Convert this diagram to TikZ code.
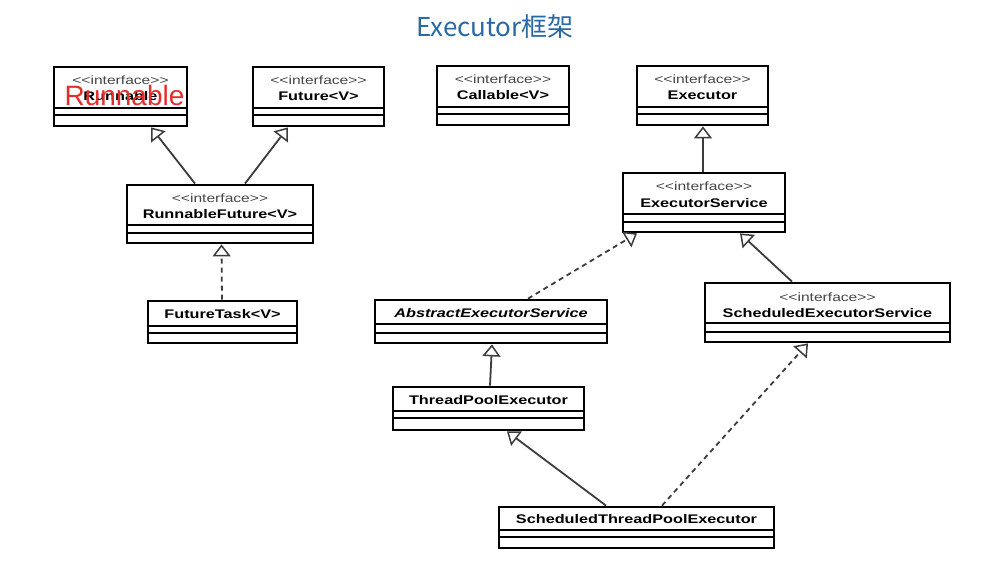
\documentclass[tikz,border=0pt]{standalone}
\usepackage{fontspec}
\setmainfont{Liberation Sans}
\newfontfamily\umlfont[FakeStretch=1.3]{Liberation Sans}
\newfontfamily\cjkfont{Noto Sans CJK SC}
\usetikzlibrary{arrows.meta}
\definecolor{titleblue}{RGB}{41,105,165}
\definecolor{linegray}{RGB}{60,60,60}
\definecolor{stereogray}{RGB}{70,70,70}
\definecolor{overred}{RGB}{230,45,45}
\begin{document}
\begin{tikzpicture}[x=1pt,y=-1pt,
  umlbox/.style={draw=black, line width=2.8pt, inner sep=0pt, fill=white},
  divline/.style={draw=black, line width=1.4pt},
  stereo/.style={inner sep=0pt, text=stereogray, font=\umlfont\fontsize{12}{14}\selectfont},
  nm/.style={inner sep=0pt, text=black, font=\umlfont\bfseries\fontsize{12.5}{14}\selectfont},
  gen/.style={draw=linegray, line width=1.8pt, -{Triangle[open, length=12pt, width=18pt, line width=1.5pt]}},
  real/.style={gen, dash pattern=on 5pt off 4pt}
]
\fill[white] (0,0) rectangle (996,562);
\useasboundingbox (0,0) rectangle (996,562);

% title
\node[inner sep=0pt, text=titleblue, font=\cjkfont\fontsize{26}{30}\selectfont] (title) at (495,27) {Executor框架};

% boxes
\node[umlbox, minimum width=133pt, minimum height=59pt] (run) at (120.5,96.5) {};
\node[umlbox, minimum width=131pt, minimum height=59pt] (fut) at (318.5,96.5) {};
\node[umlbox, minimum width=132pt, minimum height=59pt] (call) at (503,95.5) {};
\node[umlbox, minimum width=131pt, minimum height=59pt] (exe) at (702.5,95.5) {};
\node[umlbox, minimum width=186pt, minimum height=58pt] (rf) at (220,214) {};
\node[umlbox, minimum width=162pt, minimum height=59pt] (es) at (704,202.5) {};
\node[umlbox, minimum width=149pt, minimum height=42pt] (ft) at (222.5,322) {};
\node[umlbox, minimum width=232pt, minimum height=43pt] (aes) at (491,321.5) {};
\node[umlbox, minimum width=245pt, minimum height=59pt] (ses) at (827.5,312.5) {};
\node[umlbox, minimum width=191pt, minimum height=43pt] (tpe) at (488.5,408.5) {};
\node[umlbox, minimum width=275pt, minimum height=41pt] (stpe) at (636.5,527.5) {};

% compartment lines
\draw[divline] (54,108) -- (187,108) (54,115) -- (187,115);
\draw[divline] (253,108) -- (384,108) (253,115) -- (384,115);
\draw[divline] (437,107) -- (569,107) (437,114) -- (569,114);
\draw[divline] (637,107) -- (768,107) (637,114) -- (768,114);
\draw[divline] (127,225) -- (313,225) (127,233) -- (313,233);
\draw[divline] (623,214) -- (785,214) (623,222) -- (785,222);
\draw[divline] (148,326) -- (297,326) (148,333) -- (297,333);
\draw[divline] (375,324) -- (607,324) (375,333) -- (607,333);
\draw[divline] (705,323) -- (950,323) (705,332) -- (950,332);
\draw[divline] (393,411) -- (584,411) (393,418) -- (584,418);
\draw[divline] (499,530) -- (774,530) (499,537) -- (774,537);

% texts
\node[stereo] (run-s) at (120.5,80) {<<interface>>};
\node[nm] (run-n) at (120.5,96) {Runnable};
\node[stereo] (fut-s) at (318.5,80) {<<interface>>};
\node[nm] (fut-n) at (318.5,96) {Future<V>};
\node[stereo] (call-s) at (503,79) {<<interface>>};
\node[nm] (call-n) at (503,95) {Callable<V>};
\node[stereo] (exe-s) at (702.5,79) {<<interface>>};
\node[nm] (exe-n) at (702.5,95) {Executor};
\node[stereo] (rf-s) at (220,198) {<<interface>>};
\node[nm] (rf-n) at (220,214) {RunnableFuture<V>};
\node[stereo] (es-s) at (704,186.5) {<<interface>>};
\node[nm] (es-n) at (704,203) {ExecutorService};
\node[nm] (ft-n) at (222.5,314.5) {FutureTask<V>};
\node[nm, font=\umlfont\bfseries\itshape\fontsize{12.5}{14}\selectfont] (aes-n) at (491,313.5) {AbstractExecutorService};
\node[stereo] (ses-s) at (827.5,297) {<<interface>>};
\node[nm] (ses-n) at (827.5,313.5) {ScheduledExecutorService};
\node[nm] (tpe-n) at (488.5,400) {ThreadPoolExecutor};
\node[nm] (stpe-n) at (636.5,519) {ScheduledThreadPoolExecutor};

% red overlay label
\node[inner sep=0pt, anchor=base, text=overred, font=\fontsize{28}{30}\selectfont] (run-red) at (124.5,105) {Runnable};

% connectors
\draw[gen] ([xshift=-25pt]rf.north) -- ([xshift=30.5pt]run.south);
\draw[gen] ([xshift=25pt]rf.north) -- ([xshift=-30.5pt]fut.south);
\draw[real] ([xshift=-0.5pt]ft.north) -- ([xshift=1.5pt]rf.south);
\draw[gen] ([xshift=-1pt]es.north) -- ([xshift=0.5pt]exe.south);
\draw[real] ([xshift=37pt]aes.north) -- ([xshift=-67pt]es.south);
\draw[gen] ([xshift=-35.5pt]ses.north) -- ([xshift=36pt]es.south);
\draw[gen] ([xshift=1.5pt]tpe.north) -- ([xshift=1pt]aes.south);
\draw[gen] ([xshift=-30.5pt]stpe.north) -- ([xshift=18.5pt]tpe.south);
\draw[real] ([xshift=25.5pt]stpe.north) -- ([xshift=-19.5pt]ses.south);
\end{tikzpicture}
\end{document}
